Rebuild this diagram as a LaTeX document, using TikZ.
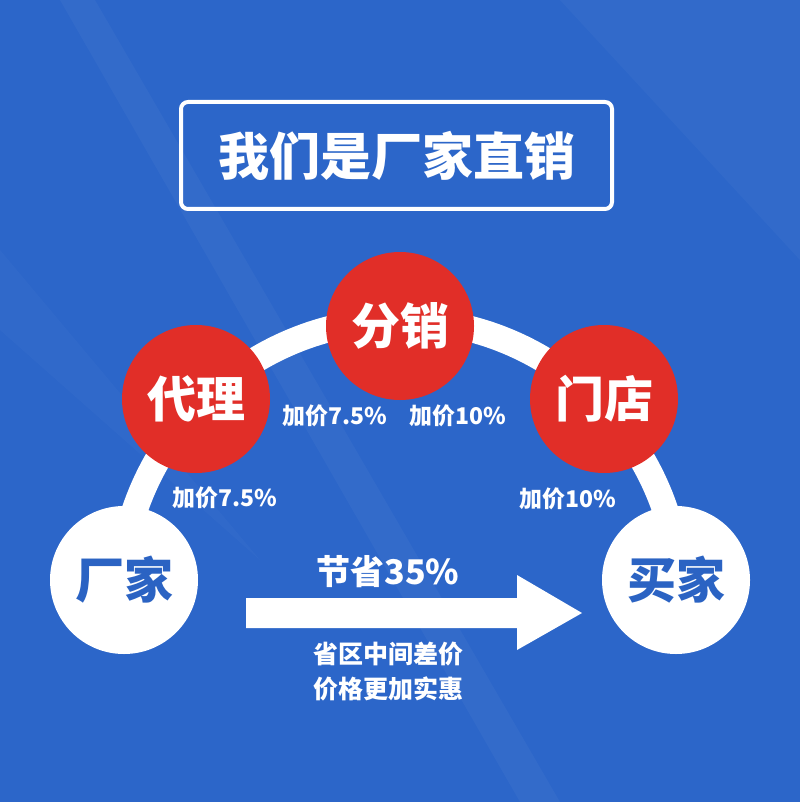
\documentclass[tikz,border=0pt]{standalone}
\usepackage{fontspec}
\newfontfamily\cjk{Noto Sans CJK SC}
\definecolor{bg}{HTML}{2C66C9}
\definecolor{redc}{HTML}{E12E28}
\definecolor{txtblue}{HTML}{2B63C3}
\begin{document}
\begin{tikzpicture}[x=1pt,y=-1pt,
  redball/.style={circle,fill=redc,minimum size=148pt,inner sep=0pt,text=white,font=\cjk\bfseries\fontsize{49}{49}\selectfont},
  whiteball/.style={circle,fill=white,minimum size=148pt,inner sep=0pt,text=txtblue,font=\cjk\bfseries\fontsize{49}{49}\selectfont},
  pricetag/.style={text=white,inner sep=0pt,font=\cjk\bfseries\fontsize{23}{23}\selectfont},
  note/.style={text=white,inner sep=0pt,font=\cjk\bfseries\fontsize{25}{25}\selectfont},
  titlebox/.style={draw=white,line width=4pt,rounded corners=7pt,minimum width=431pt,minimum height=107pt,inner sep=0pt,text=white,font=\cjk\bfseries\fontsize{51}{51}\selectfont},
  band/.style={draw=white,line width=26pt}]
\fill[bg] (0,0) rectangle (800,802);
\useasboundingbox (0,0) rectangle (800,802);
% faint highlights
\fill[white,opacity=0.035] (60,0) -- (95,0) -- (560,802) -- (520,802) -- cycle;
\fill[white,opacity=0.03] (560,0) -- (800,0) -- (800,260) -- cycle;
\fill[white,opacity=0.025] (0,250) -- (0,330) -- (260,560) -- cycle;
% title
\node[titlebox] (title) at (396.5,155.5) {我们是厂家直销};
% arc band
\draw[band] (120,600) arc[start angle=180,end angle=360,radius=280];
% circles
\node[whiteball] (factory) at (124,580) {厂家};
\node[whiteball] (buyer) at (676,580) {买家};
\node[redball] (agent) at (196,399) {代理};
\node[redball] (dist) at (400,326) {分销};
\node[redball] (store) at (604,399) {门店};
% price labels
\node[pricetag] (p1) at (225,498) {加价7.5\%};
\node[pricetag] (p2) at (335,416) {加价7.5\%};
\node[pricetag] (p3) at (458,416) {加价10\%};
\node[pricetag] (p4) at (568,499) {加价10\%};
% arrow
\fill[white] (246,598) -- (517,598) -- (517,575) -- (582,613) -- (517,650) -- (517,628) -- (246,628) -- cycle;
\node[text=white,inner sep=0pt,font=\cjk\bfseries\fontsize{34}{34}\selectfont] (save) at (388,572) {节省35\%};
\node[note] (n1) at (388,654) {省区中间差价};
\node[note] (n2) at (388,689) {价格更加实惠};
\end{tikzpicture}
\end{document}
